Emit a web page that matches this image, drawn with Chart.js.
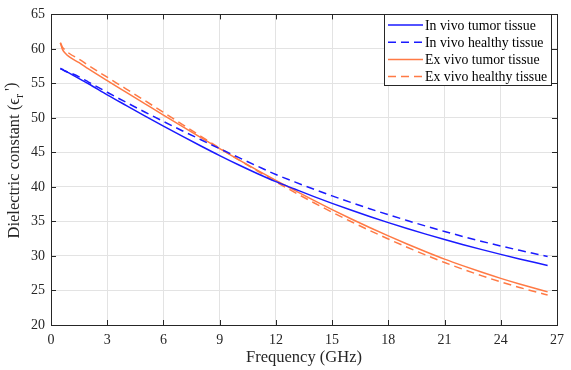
<!DOCTYPE html>
<html>
<head>
<meta charset="utf-8">
<script src="https://cdn.jsdelivr.net/npm/chart.js@4.4.1/dist/chart.umd.min.js"></script>
<style>
html,body{margin:0;padding:0;background:#fff;}
#wrap{position:relative;width:571px;height:370px;}
</style>
</head>
<body>
<div id="wrap"><canvas id="c" width="571" height="370"></canvas></div>
<script>
const freq = [0.5,0.6,0.75,1,1.5,2,3,4,5,6,7,8,9,10,11,12,13,14,15,16,17,18,19,20,21,22,23,24,25,26,26.5];
const inVivoTumor   = [57.2,57.05,56.8,56.45,55.7,54.95,53.35,51.82,50.31,48.82,47.36,45.93,44.54,43.21,41.95,40.77,39.7,38.64,37.62,36.65,35.72,34.83,33.98,33.17,32.39,31.64,30.92,30.23,29.57,28.94,28.63];
const inVivoHealthy = [57.1,57.0,56.8,56.55,55.95,55.2,53.72,52.27,50.86,49.49,48.15,46.84,45.55,44.28,43.03,41.8,40.73,39.7,38.71,37.76,36.85,35.98,35.14,34.33,33.55,32.81,32.11,31.45,30.82,30.22,29.93];
const exVivoTumor   = [60.9,60.0,59.4,58.8,58.0,57.1,55.4,53.74,52.08,50.42,48.77,47.14,45.54,43.97,42.44,40.95,39.5,38.09,36.72,35.4,34.13,32.91,31.74,30.62,29.55,28.57,27.64,26.76,25.94,25.17,24.8];
const exVivoHealthy = [60.9,60.3,59.85,59.3,58.5,57.6,55.9,54.22,52.52,50.8,49.07,47.34,45.64,43.97,42.34,40.75,39.22,37.75,36.34,34.99,33.7,32.46,31.27,30.13,29.05,28.06,27.12,26.24,25.44,24.7,24.35];
const seriesLabels = ["In vivo tumor tissue","In vivo healthy tissue","Ex vivo tumor tissue","Ex vivo healthy tissue"];
const xTicks = [0,3,6,9,12,15,18,21,24,27];
const yTicks = [20,25,30,35,40,45,50,55,60,65];

const BLUE = '#1a1aff';
const ORANGE = '#ff7a45';
const FONT = '"Liberation Serif", "Times New Roman", serif';
const DASH = [8,5];

function pts(ys){ return freq.map((f,i)=>({x:f,y:ys[i]})); }

const boxPlugin = {
  id:'boxPlugin',
  afterDraw(chart){
    const {ctx, chartArea:a, scales:{x,y}} = chart;
    ctx.save();
    ctx.strokeStyle = '#262626';
    ctx.lineWidth = 1;
    ctx.strokeRect(Math.round(a.left)+0.5, Math.round(a.top)+0.5, Math.round(a.right-a.left), Math.round(a.bottom-a.top));
    const tl = 5;
    ctx.beginPath();
    xTicks.forEach(v=>{
      const px = Math.round(x.getPixelForValue(v))+0.5;
      ctx.moveTo(px,a.bottom); ctx.lineTo(px,a.bottom-tl);
      ctx.moveTo(px,a.top); ctx.lineTo(px,a.top+tl);
    });
    yTicks.forEach(v=>{
      const py = Math.round(y.getPixelForValue(v))+0.5;
      ctx.moveTo(a.left,py); ctx.lineTo(a.left+tl,py);
      ctx.moveTo(a.right,py); ctx.lineTo(a.right-tl,py);
    });
    ctx.stroke();

    // axis titles
    ctx.fillStyle = '#262626';
    ctx.font = '16.5px ' + FONT;
    ctx.textAlign = 'center';
    ctx.textBaseline = 'alphabetic';
    ctx.fillText('Frequency (GHz)', (a.left+a.right)/2, 362);

    // y title with subscript
    ctx.save();
    ctx.translate(19, 160);
    ctx.rotate(-Math.PI/2);
    const p1 = 'Dielectric constant (\u03f5', p2 = 'r', p3 = ' \')';
    ctx.font = '16.5px ' + FONT;
    const w1 = ctx.measureText(p1).width, w3 = ctx.measureText(p3).width;
    ctx.font = '12px ' + FONT;
    const w2 = ctx.measureText(p2).width;
    const total = w1+w2+w3;
    let sx = -total/2;
    ctx.textAlign = 'left';
    ctx.font = '16.5px ' + FONT;
    ctx.fillText(p1, sx, 0); sx += w1;
    ctx.font = '12px ' + FONT;
    ctx.fillText(p2, sx, 4); sx += w2;
    ctx.font = '16.5px ' + FONT;
    ctx.fillText(p3, sx-1, -3);
    ctx.restore();

    // legend
    const lx = 384.5, ly = 14.5, lw = 167, lh = 71;
    ctx.fillStyle = '#fff';
    ctx.fillRect(lx, ly, lw, lh);
    ctx.strokeStyle = '#262626';
    ctx.lineWidth = 1;
    ctx.strokeRect(lx, ly, lw, lh);
    ctx.font = '13.8px ' + FONT;
    ctx.textAlign = 'left';
    ctx.textBaseline = 'middle';
    chart.data.datasets.forEach((ds,i)=>{
      const yy = 25 + i*17.2;
      ctx.save();
      ctx.strokeStyle = ds.borderColor;
      ctx.lineWidth = 1.5;
      ctx.setLineDash(ds.borderDash || []);
      ctx.beginPath(); ctx.moveTo(388, yy); ctx.lineTo(423, yy); ctx.stroke();
      ctx.restore();
      ctx.fillStyle = '#000';
      ctx.fillText(ds.label, 425, yy+1);
    });
    ctx.restore();
  }
};

new Chart(document.getElementById('c'), {
  type:'line',
  data:{
    datasets:[
      {label:seriesLabels[0], data:pts(inVivoTumor), borderColor:BLUE, borderWidth:1.5},
      {label:seriesLabels[1], data:pts(inVivoHealthy), borderColor:BLUE, borderWidth:1.5, borderDash:DASH},
      {label:seriesLabels[2], data:pts(exVivoTumor), borderColor:ORANGE, borderWidth:1.5},
      {label:seriesLabels[3], data:pts(exVivoHealthy), borderColor:ORANGE, borderWidth:1.5, borderDash:DASH}
    ]
  },
  options:{
    responsive:false,
    animation:false,
    devicePixelRatio:1,
    layout:{padding:{left:0,top:4,right:11,bottom:0}},
    elements:{point:{radius:0}, line:{cubicInterpolationMode:'monotone', fill:false}},
    plugins:{legend:{display:false}, tooltip:{enabled:false}},
    scales:{
      x:{type:'linear', min:0, max:27,
        afterFit(s){ s.height = 45; },
        afterBuildTicks(s){ s.ticks = xTicks.map(v=>({value:v})); },
        grid:{color:'#e3e3e3', drawTicks:false},
        border:{display:false},
        ticks:{padding:7, color:'#262626', font:{family:FONT, size:14}, maxRotation:0}
      },
      y:{type:'linear', min:20, max:65,
        afterFit(s){ s.width = 51; },
        afterBuildTicks(s){ s.ticks = yTicks.map(v=>({value:v})); },
        grid:{color:'#e3e3e3', drawTicks:false},
        border:{display:false},
        ticks:{padding:6, color:'#262626', font:{family:FONT, size:14}}
      }
    }
  },
  plugins:[boxPlugin]
});
</script>
</body>
</html>
